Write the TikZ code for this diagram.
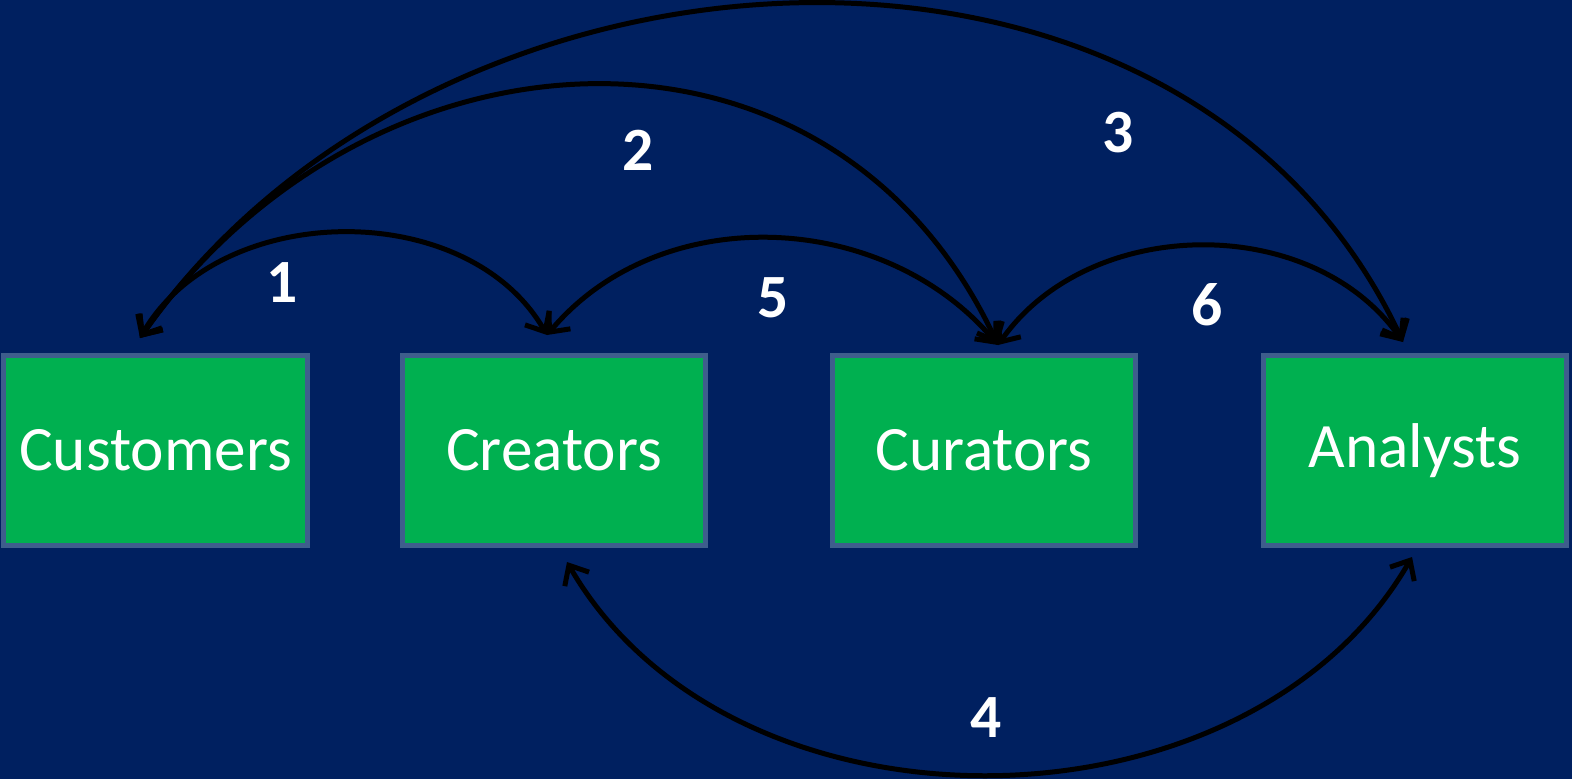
\documentclass[tikz,border=0pt]{standalone}
\usepackage{fontspec}
\setmainfont{Carlito}
\usetikzlibrary{arrows.meta}
\definecolor{bg}{RGB}{0,32,96}
\definecolor{boxfill}{RGB}{0,176,80}
\definecolor{boxline}{RGB}{62,94,140}
\tikzset{
  actor/.style={draw=boxline, fill=boxfill, line width=1mm, minimum width=6.08cm, minimum height=3.82cm, inner sep=0pt, text=white, font=\fontsize{36}{40}\selectfont},
  num/.style={text=white, font=\bfseries\fontsize{35}{40}\selectfont, inner sep=0pt},
  link/.style={draw=black, line width=1mm, {Straight Barb[length=3.2mm,width=5.6mm]}-{Straight Barb[length=3.2mm,width=5.6mm]}}
}
\begin{document}
\begin{tikzpicture}[x=0.02cm,y=0.02cm]
\fill[bg] (0,0) rectangle (1572,779);
\useasboundingbox (0,0) rectangle (1572,779);
\node[actor] (cust) at (155.5,328.5) {Customers};
\node[actor] (creat) at (554,328.5) {Creators};
\node[actor] (cur) at (984,328.5) {Curators};
\node[actor] (anal) at (1415,328.5) {Analysts};
\coordinate (custT) at (140,441);
\coordinate (creatT) at (547,444);
\coordinate (curT) at (998,434);
\coordinate (analT) at (1403,437);
\coordinate (creatB) at (567,217);
\coordinate (analB) at (1412,222);
\draw[link] (custT) to[out=60,in=120] (creatT);
\draw[link] (creatT) to[out=50,in=130] (curT);
\draw[link] (curT) to[out=55,in=125] (analT);
\draw[link] (custT) to[out=55,in=115,looseness=1.18] (curT);
\draw[link] (custT) to[out=55,in=115,looseness=1.05] (analT);
\draw[link] (creatB) to[out=-60,in=-120] (analB);
\node[num] (n1) at (282,496) {1};
\node[num] (n2) at (638,629) {2};
\node[num] (n3) at (1118,646) {3};
\node[num] (n5) at (773,481) {5};
\node[num] (n6) at (1207,474) {6};
\node[num] (n4) at (986,61) {4};
\end{tikzpicture}
\end{document}
